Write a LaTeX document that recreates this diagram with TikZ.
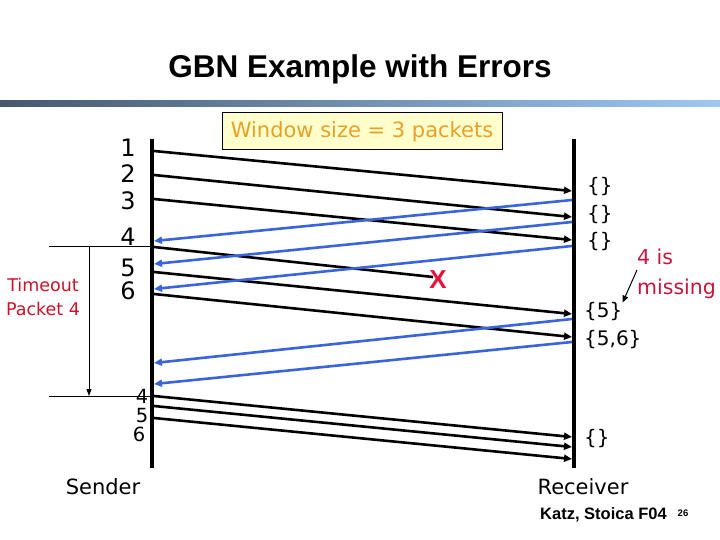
\documentclass[tikz,border=0pt]{standalone}
\usepackage{fontspec}
\setmainfont{DejaVu Sans}
\newfontfamily\arialfont{Liberation Sans}
\usetikzlibrary{arrows.meta}
\definecolor{ackblue}{RGB}{58,100,220}
\definecolor{winorange}{RGB}{232,160,40}
\definecolor{winfill}{RGB}{255,255,204}
\definecolor{tored}{RGB}{200,20,40}
\definecolor{missred}{RGB}{200,20,60}
\definecolor{xred}{RGB}{230,20,60}
\definecolor{barleft}{RGB}{70,88,110}
\definecolor{barright}{RGB}{157,200,245}
\tikzset{
  pkt/.style={line width=2.6pt,draw=black,-{Triangle[length=8pt,width=7pt]}},
  lostpkt/.style={line width=2.6pt,draw=black},
  ack/.style={line width=2.6pt,draw=ackblue,-{Triangle[length=8pt,width=7pt]}},
  timeline/.style={line width=4pt,draw=black},
  num/.style={font=\fontsize{24}{24}\selectfont,inner sep=0pt},
  rnum/.style={font=\fontsize{19.5}{19.5}\selectfont,inner sep=0pt},
  rlab/.style={font=\fontsize{20}{20}\selectfont,inner sep=0pt,anchor=west},
  thin/.style={line width=1pt,draw=black}
}
\begin{document}
\begin{tikzpicture}[x=1pt,y=-1pt]
\useasboundingbox (0,0) rectangle (720,540);
% title and bar
\node[font=\arialfont\bfseries\fontsize{31.5}{31.5}\selectfont,inner sep=0pt] (title) at (360,69) {GBN Example with Errors};
\shade[left color=barleft,right color=barright] (0,101) rectangle (720,107);
% window box
\node[draw=black,line width=1pt,fill=winfill,text=winorange,minimum width=280pt,minimum height=37pt,inner sep=0pt,font=\fontsize{21}{21}\selectfont] (win) at (362,131.5) {Window size = 3 packets};
% time lines
\coordinate (stop) at (152,139);
\coordinate (sbot) at (152,468);
\coordinate (rtop) at (574,139);
\coordinate (rbot) at (574,468);
\draw[timeline] (stop) -- (sbot);
\draw[timeline] (rtop) -- (rbot);
% sender numbers
\node[num] (n1) at (128,148) {1};
\node[num] (n2) at (128,174) {2};
\node[num] (n3) at (128,201) {3};
\node[num] (n4) at (128,237) {4};
\node[num] (n5) at (128,268) {5};
\node[num] (n6) at (128,291) {6};
% packet coordinates
\coordinate (s1) at (154,151); \coordinate (r1) at (572,191);
\coordinate (s2) at (154,175); \coordinate (r2) at (572,217);
\coordinate (s3) at (154,199); \coordinate (r3) at (572,240);
\coordinate (s4) at (154,247); \coordinate (lost) at (433,277);
\coordinate (s5) at (154,272); \coordinate (r5) at (572,314);
\coordinate (s6) at (154,294); \coordinate (r6) at (572,337);
\draw[pkt] (s1) -- (r1);
\draw[pkt] (s2) -- (r2);
\draw[pkt] (s3) -- (r3);
\draw[lostpkt] (s4) -- (lost);
\draw[pkt] (s5) -- (r5);
\draw[pkt] (s6) -- (r6);
\node[text=xred,font=\arialfont\bfseries\fontsize{26}{26}\selectfont,inner sep=0pt] (x) at (438,280) {X};
% acks
\coordinate (a1r) at (572,200); \coordinate (a1s) at (154,241);
\coordinate (a2r) at (572,222); \coordinate (a2s) at (154,264);
\coordinate (a3r) at (572,246); \coordinate (a3s) at (154,289);
\coordinate (a5r) at (572,319); \coordinate (a5s) at (154,363);
\coordinate (a6r) at (572,342); \coordinate (a6s) at (154,384);
\draw[ack] (a1r) -- (a1s);
\draw[ack] (a2r) -- (a2s);
\draw[ack] (a3r) -- (a3s);
\draw[ack] (a5r) -- (a5s);
\draw[ack] (a6r) -- (a6s);
% receiver labels
\node[rlab] (b1) at (587,187) {\{\}};
\node[rlab] (b2) at (587,215) {\{\}};
\node[rlab] (b3) at (587,242) {\{\}};
\node[rlab] (b5) at (584,312) {\{5\}};
\node[rlab] (b56) at (584,340) {\{5,6\}};
\node[rlab] (b7) at (584,439) {\{\}};
% 4 is missing
\node[text=missred,font=\fontsize{20.5}{30}\selectfont,inner sep=0pt,anchor=north west,align=left] (miss) at (637,249) {4 is\\missing};
\coordinate (mstart) at (637,270);
\draw[thin,-{Triangle[length=7pt,width=6pt]}] (mstart) -- (b5.north east);
% timeout
\coordinate (t1l) at (49,246); \coordinate (t1r) at (152,246);
\coordinate (t2l) at (49,396); \coordinate (t2r) at (152,396);
\coordinate (ttop) at (89,246); \coordinate (tbot) at (89,396);
\draw[thin] (t1l) -- (t1r);
\draw[thin] (t2l) -- (t2r);
\draw[thin,-{Triangle[length=7pt,width=5pt]}] (ttop) -- (tbot);
\node[text=tored,font=\fontsize{17.5}{24}\selectfont,inner sep=0pt,align=center] (to) at (43,297) {Timeout\\Packet 4};
% retransmissions
\node[rnum] (m4) at (142,396) {4};
\node[rnum] (m5) at (142,415.5) {5};
\node[rnum] (m6) at (139,434) {6};
\coordinate (s7) at (154,396); \coordinate (r7) at (572,437);
\coordinate (s8) at (154,406); \coordinate (r8) at (572,447);
\coordinate (s9) at (154,418); \coordinate (r9) at (572,459);
\draw[pkt] (s7) -- (r7);
\draw[pkt] (s8) -- (r8);
\draw[pkt] (s9) -- (r9);
% labels
\node[font=\fontsize{21}{21}\selectfont,inner sep=0pt] (sender) at (103,487) {Sender};
\node[font=\fontsize{21}{21}\selectfont,inner sep=0pt] (receiver) at (583,487) {Receiver};
\node[font=\arialfont\bfseries\fontsize{16.5}{16.5}\selectfont,inner sep=0pt,anchor=west] (katz) at (540,515) {Katz, Stoica F04};
\node[font=\arialfont\bfseries\fontsize{9.5}{9.5}\selectfont,inner sep=0pt] (pg) at (683,513) {26};
\end{tikzpicture}
\end{document}
